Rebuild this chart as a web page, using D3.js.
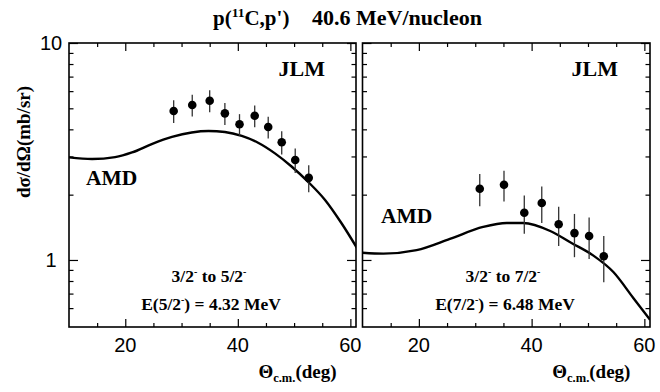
<!DOCTYPE html>
<html>
<head>
<meta charset="utf-8">
<script src="https://cdn.jsdelivr.net/npm/d3@7"></script>
<style>
  html, body { margin: 0; padding: 0; background: #fff; }
  svg { display: block; }
</style>
</head>
<body>
<svg id="chart" width="660" height="392"></svg>
<script>
// Angular distributions, p(11C,p') at 40.6 MeV/nucleon
const xTickMajor = [20, 40, 60];
const xTickMinor = [15, 25, 30, 35, 45, 50, 55];
const yTickMajor = [1, 10];
const yTickMinor = [0.6, 0.7, 0.8, 0.9, 2, 3, 4, 5, 6, 7, 8, 9];

// 3/2- -> 5/2- (E = 4.32 MeV): measured points
const angleA = [28.6, 31.9, 35.0, 37.7, 40.3, 43.0, 45.4, 47.8, 50.2, 52.6];
const sigmaA = [4.86, 5.18, 5.42, 4.74, 4.22, 4.62, 4.10, 3.49, 2.89, 2.39];
const errA   = [0.58, 0.60, 0.63, 0.55, 0.48, 0.53, 0.47, 0.43, 0.37, 0.34];
// AMD calculation
const curveAngleA = [10, 14.1, 18.2, 21.2, 24.7, 28.3, 31.8, 34.8, 37.7, 40.7, 43.6, 46.6, 49.6, 52.5, 55.5, 58.4, 61.4];
const curveSigmaA = [2.97, 2.92, 2.98, 3.13, 3.42, 3.69, 3.87, 3.93, 3.89, 3.73, 3.47, 3.10, 2.69, 2.29, 1.89, 1.48, 1.11];

// 3/2- -> 7/2- (E = 6.48 MeV): measured points
const angleB = [30.8, 35.1, 38.7, 41.8, 44.8, 47.6, 50.2, 52.8];
const sigmaB = [2.13, 2.22, 1.65, 1.83, 1.46, 1.33, 1.29, 1.04];
const errB   = [0.36, 0.36, 0.33, 0.35, 0.30, 0.30, 0.28, 0.25];
// AMD calculation
const curveAngleB = [10, 13.7, 19.6, 25.5, 31.4, 35.6, 38.5, 43.3, 47.0, 50.9, 54.5, 58.0, 61.0];
const curveSigmaB = [1.08, 1.07, 1.11, 1.25, 1.42, 1.48, 1.48, 1.36, 1.20, 1.05, 0.88, 0.67, 0.53];

const svg = d3.select("#chart");
const plotTop = 43, plotBottom = 327;
const y = d3.scaleLog().domain([0.491, 10]).range([plotBottom, plotTop]);

const serifText = (sel, size) => sel.append("text")
  .attr("font-family", "Liberation Serif").attr("font-weight", "bold")
  .attr("font-size", size).attr("fill", "#000");
const sansText = (sel, size) => sel.append("text")
  .attr("font-family", "Liberation Sans").attr("font-size", size).attr("fill", "#000");

const panels = [
  { x0: 69, x1: 356, angle: angleA, sigma: sigmaA, err: errA,
    cx: curveAngleA, cy: curveSigmaA, trans: "5/2", energy: "4.32",
    amd: [86, 185], jlm: [325, 76], tc: 209 },
  { x0: 362.5, x1: 650, angle: angleB, sigma: sigmaB, err: errB,
    cx: curveAngleB, cy: curveSigmaB, trans: "7/2", energy: "6.48",
    amd: [381, 223], jlm: [618, 76], tc: 503 }
];

panels.forEach((p, i) => {
  const x = d3.scaleLinear().domain([10, 61]).range([p.x0, p.x1]);
  const g = svg.append("g");
  const clipId = "clip" + i;
  svg.append("clipPath").attr("id", clipId)
    .append("rect").attr("x", p.x0).attr("y", plotTop)
    .attr("width", p.x1 - p.x0).attr("height", plotBottom - plotTop);

  // ticks on all four sides, pointing inward
  const addAxis = (axis, tx, ty, vals, size) => {
    g.append("g").attr("transform", `translate(${tx},${ty})`)
      .call(axis.tickValues(vals).tickSize(size).tickFormat(""))
      .call(s => s.select(".domain").remove())
      .call(s => s.selectAll("line").attr("stroke", "#000").attr("stroke-width", 1.2));
  };
  addAxis(d3.axisBottom(x), 0, plotBottom, xTickMajor, -8);
  addAxis(d3.axisBottom(x), 0, plotBottom, xTickMinor, -4);
  addAxis(d3.axisTop(x), 0, plotTop, xTickMajor, -8);
  addAxis(d3.axisTop(x), 0, plotTop, xTickMinor, -4);
  addAxis(d3.axisLeft(y), p.x0, 0, yTickMajor, -9);
  addAxis(d3.axisLeft(y), p.x0, 0, yTickMinor, -4.5);
  addAxis(d3.axisRight(y), p.x1, 0, yTickMajor, -9);
  addAxis(d3.axisRight(y), p.x1, 0, yTickMinor, -4.5);

  // frame
  g.append("rect").attr("x", p.x0).attr("y", plotTop)
    .attr("width", p.x1 - p.x0).attr("height", plotBottom - plotTop)
    .attr("fill", "none").attr("stroke", "#000").attr("stroke-width", 1.6);

  // AMD curve
  const line = d3.line().x(d => x(d[0])).y(d => y(d[1])).curve(d3.curveMonotoneX);
  g.append("path").datum(d3.zip(p.cx, p.cy))
    .attr("clip-path", `url(#${clipId})`)
    .attr("d", line).attr("fill", "none")
    .attr("stroke", "#000").attr("stroke-width", 2.4);

  // data with error bars
  const pts = d3.zip(p.angle, p.sigma, p.err);
  g.selectAll(".eb").data(pts).join("line")
    .attr("x1", d => x(d[0])).attr("x2", d => x(d[0]))
    .attr("y1", d => y(d[1] + d[2])).attr("y2", d => y(d[1] - d[2]))
    .attr("stroke", "#333").attr("stroke-width", 1.3);
  g.selectAll(".pt").data(pts).join("circle")
    .attr("cx", d => x(d[0])).attr("cy", d => y(d[1])).attr("r", 4.3)
    .attr("fill", "#000");

  // x tick labels
  xTickMajor.forEach(v => {
    sansText(g, 20).attr("x", x(v)).attr("y", 352)
      .attr("text-anchor", "middle").text(v);
  });

  // x axis title
  const xt = serifText(g, 19).attr("x", x(50.6)).attr("y", 378)
    .attr("text-anchor", "middle");
  xt.append("tspan").text("Θ");
  xt.append("tspan").attr("font-size", 12.5).attr("dy", 4).text("c.m.");
  xt.append("tspan").attr("dy", -4).text("(deg)");

  // labels
  serifText(g, 22).attr("x", p.jlm[0]).attr("y", p.jlm[1])
    .attr("text-anchor", "end").text("JLM");
  serifText(g, 21.5).attr("x", p.amd[0]).attr("y", p.amd[1]).text("AMD");

  const t1 = serifText(g, 17.5).attr("x", p.tc).attr("y", 282)
    .attr("text-anchor", "middle");
  t1.append("tspan").text("3/2");
  t1.append("tspan").attr("font-size", 10).attr("dy", -7).text("-");
  t1.append("tspan").attr("dy", 7).text(" to " + p.trans);
  t1.append("tspan").attr("font-size", 10).attr("dy", -7).text("-");

  const t2 = serifText(g, 17.5).attr("x", p.tc + 2).attr("y", 310)
    .attr("text-anchor", "middle");
  t2.append("tspan").text("E(" + p.trans);
  t2.append("tspan").attr("font-size", 10).attr("dy", -7).text("-");
  t2.append("tspan").attr("dy", 7).text(") = " + p.energy + " MeV");
});

// y tick labels
yTickMajor.forEach(v => {
  sansText(svg, 20).attr("x", 51).attr("y", y(v))
    .attr("dy", "0.36em").attr("text-anchor", "middle").text(v);
});

// y axis title
serifText(svg, 19)
  .attr("transform", `translate(30,142) rotate(-90)`)
  .attr("text-anchor", "middle")
  .text("dσ/dΩ(mb/sr)");

// title: reaction and beam energy
const title = serifText(svg, 21).attr("x", 213).attr("y", 25);
title.append("tspan").text("p(");
title.append("tspan").attr("font-size", 13.5).attr("dy", -8).text("11");
title.append("tspan").attr("dy", 8).text("C,p')");
serifText(svg, 22).attr("x", 312).attr("y", 25).text("40.6 MeV/nucleon");
</script>
</body>
</html>
